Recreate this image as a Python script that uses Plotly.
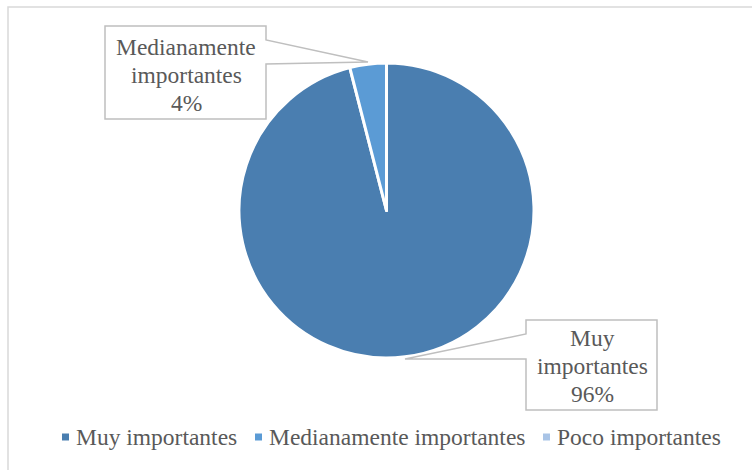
import plotly.graph_objects as go

# Survey responses: importance rating (percent of respondents)
categories = ["Muy importantes", "Medianamente importantes", "Poco importantes"]
values = [96, 4, 0]
colors = ["#4a7eb0", "#5b9bd5", "#a9c4e6"]

W, H = 752, 470
FONT = "'Liberation Serif', 'Times New Roman', serif"
TEXT_COLOR = "#595959"
FONT_SIZE = 23.5
LINE_STEP = 28

fig = go.Figure()

fig.add_trace(go.Pie(
    labels=categories,
    values=values,
    sort=False,
    direction="clockwise",
    rotation=0,
    marker=dict(colors=colors, line=dict(color="white", width=3)),
    textinfo="none",
    hoverinfo="label+percent",
    domain=dict(x=[238 / W, 535 / W], y=[1 - 358 / H, 1 - 63 / H]),
    showlegend=False,
))

total = sum(values)

shapes = [
    # chart area border
    dict(type="rect", xref="x", yref="y", x0=8, y0=7, x1=W + 5, y1=H + 5,
         line=dict(color="#d9d9d9", width=1.5), fillcolor="rgba(0,0,0,0)", layer="below"),
]
annotations = []

# Callout boxes for data labels (pixel layout on a hidden overlay axis)
callouts = [
    # (category index, box outline path, text centre x, first line centre y)
    (1, "M105,26 L266,26 L266,40 L368,62 L266,64 L266,119 L105,119 Z", 186, 47),
    (0, "M526,320 L657,320 L657,410 L526,410 L526,359 L405,359 L526,334 Z", 592, 338),
]
for idx, path, cx, cy in callouts:
    shapes.append(dict(type="path", xref="x", yref="y", path=path,
                       line=dict(color="#bfbfbf", width=1.5), fillcolor="white", layer="above"))
    first, rest = categories[idx].split(" ", 1)
    pct = round(values[idx] / total * 100)
    for k, line in enumerate([first, rest, f"{pct}%"]):
        annotations.append(dict(
            xref="x", yref="y", x=cx, y=cy + k * LINE_STEP, showarrow=False,
            text=line, font=dict(family=FONT, size=FONT_SIZE, color=TEXT_COLOR),
            xanchor="center", yanchor="middle",
        ))

# Legend row: small colour square followed by the category name
legend_x = [62, 255, 543]
legend_y = 437
for name, col, lx in zip(categories, colors, legend_x):
    shapes.append(dict(type="rect", xref="x", yref="y", x0=lx, x1=lx + 7,
                       y0=legend_y - 3.5, y1=legend_y + 3.5,
                       fillcolor=col, line=dict(width=0)))
    annotations.append(dict(
        xref="x", yref="y", x=lx + 12, y=legend_y, showarrow=False,
        text=name, font=dict(family=FONT, size=FONT_SIZE, color=TEXT_COLOR),
        xanchor="left", yanchor="middle",
    ))

fig.update_layout(
    width=W, height=H,
    margin=dict(l=0, r=0, t=0, b=0),
    paper_bgcolor="white",
    plot_bgcolor="rgba(0,0,0,0)",
    xaxis=dict(range=[0, W], visible=False, fixedrange=True),
    yaxis=dict(range=[H, 0], visible=False, fixedrange=True),
    shapes=shapes,
    annotations=annotations,
    showlegend=False,
)

fig.write_html("out.html")
